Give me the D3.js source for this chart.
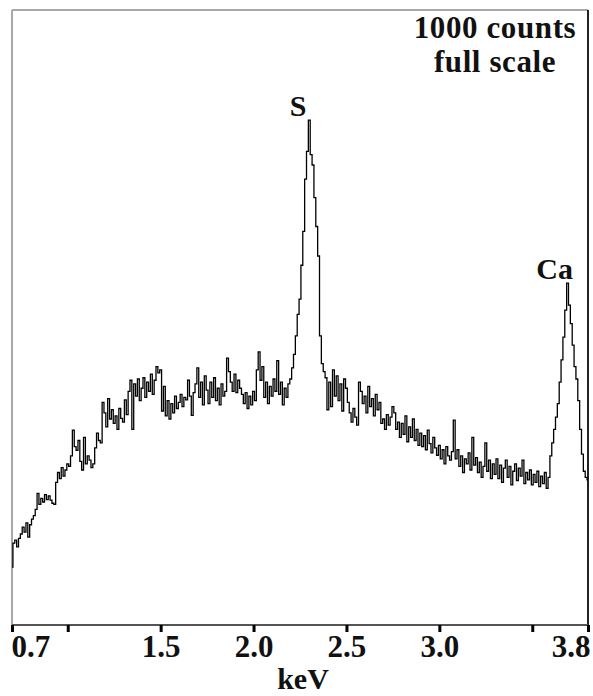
<!DOCTYPE html>
<html>
<head>
<meta charset="utf-8">
<script src="https://cdn.jsdelivr.net/npm/d3@7"></script>
<style>
  html, body { margin: 0; padding: 0; background: #fff; }
  svg text { font-family: "Liberation Serif", "Times New Roman", serif; font-weight: bold; fill: #111; }
</style>
</head>
<body>
<div id="chart"></div>
<script>
// spectrum channels: 0.70 keV start, 10 eV per channel
var startKeV = 0.70;
var channelKeV = 0.01;

// counts per channel (one row = 0.1 keV)
var counts = [
  94,133,138,127,141,148,159,151,166,143,
  163,172,178,188,214,196,206,200,212,204,
  210,203,198,196,232,248,238,256,242,252,
  262,258,275,317,290,284,300,266,252,305,
  262,275,268,256,262,288,312,300,296,362,
  345,322,368,335,350,328,340,318,352,336,
  330,366,342,380,398,318,392,372,400,365,
  385,402,370,395,380,408,375,398,420,410,
  415,348,388,340,365,335,360,345,372,352,
  362,375,355,370,366,398,372,341,378,392,
  418,370,395,358,405,382,360,395,370,402,
  365,385,358,392,372,380,434,412,395,380,
  408,378,398,385,375,360,378,352,372,358,
  380,365,415,444,398,420,370,395,360,388,
  372,400,380,430,375,395,358,385,370,392,
  400,418,440,470,505,530,585,640,725,770,
  821,765,748,695,648,600,470,425,412,402,
  350,395,355,415,372,405,365,392,348,400,
  385,362,345,330,352,338,325,395,380,360,
  372,345,388,355,368,340,375,350,362,328,
  335,318,342,325,338,355,345,318,330,305,
  328,310,340,298,322,305,335,300,318,292,
  312,290,308,285,317,295,280,305,288,276,
  292,270,285,262,290,275,268,282,333,270,
  285,258,275,248,270,262,280,252,305,260,
  272,248,265,240,258,296,250,268,238,262,
  245,270,238,260,232,255,268,240,258,228,
  250,262,235,255,242,268,230,248,236,252,
  228,245,232,250,225,242,230,248,222,240,
  275,296,318,338,360,395,431,468,512,556,
  520,490,455,420,400,365,318,278,250,240,236
];

var tickValues = [0.7, 1.0, 1.5, 2.0, 2.5, 3.0, 3.5, 3.8];
var tickLabels = ["0.7", "", "1.5", "2.0", "2.5", "3.0", "", "3.8"];
var peakNames = ["S", "Ca"];
var peakKeV = [2.24, 3.62];
var peakCounts = [821, 556];
var fullScale = 1000;

var chart = {
	w: 593,
	h: 696,
	padding: {l:12, r:5, t:10, b:71},
	svg: null
};

function drawChart() {
	chart.svg = d3.select('#chart').append('svg')
				.attr('width', chart.w)
				.attr('height', chart.h);

	var x_scale = d3.scaleLinear()
						.domain([0.7, 3.8])
						.range([chart.padding.l, chart.w - chart.padding.r]);

	var y_scale = d3.scaleLinear()
						.domain([0, fullScale])
						.range([chart.h - chart.padding.b, chart.padding.t]);

	var x0 = x_scale.range()[0], x1 = x_scale.range()[1];
	var y0 = y_scale.range()[0], y1 = y_scale.range()[1];

	var data = counts.map((c,i) => ({e: startKeV + i*channelKeV, c: c}));

	// frame
	var frame = chart.svg.append('g').attr('class', 'frame').attr('fill', 'none');
	frame.append('line').attr('x1', x0).attr('x2', x1).attr('y1', y1).attr('y2', y1)
			.attr('stroke', '#a8a8a8').attr('stroke-width', 2);
	frame.append('line').attr('x1', x0).attr('x2', x0).attr('y1', y1).attr('y2', y0)
			.attr('stroke', '#a8a8a8').attr('stroke-width', 2);
	frame.append('line').attr('x1', x1).attr('x2', x1).attr('y1', y1).attr('y2', y0)
			.attr('stroke', '#222').attr('stroke-width', 2);
	frame.append('line').attr('x1', x0).attr('x2', x1).attr('y1', y0).attr('y2', y0)
			.attr('stroke', '#555').attr('stroke-width', 2);

	// spectrum
	var line = d3.line()
				.x(d => x_scale(d.e))
				.y(d => y_scale(d.c))
				.curve(d3.curveStep);

	chart.svg.append('path')
			.datum(data)
			.attr('fill', 'none')
			.attr('stroke', '#000')
			.attr('stroke-width', 1.3)
			.attr('d', line);

	// x axis, ticks outside the frame
	var x_axis = d3.axisBottom(x_scale)
					.tickValues(tickValues)
					.tickFormat((d,i) => tickLabels[i])
					.tickSize(7)
					.tickSizeOuter(0)
					.tickPadding(3);

	var ax = chart.svg.append('g')
			.attr('class', 'axis x')
			.attr('transform', 'translate(0,' + y0 + ')')
			.call(x_axis);
	ax.select('.domain').remove();
	ax.selectAll('.tick line').attr('stroke', '#000').attr('stroke-width', 3);
	ax.selectAll('.tick text')
			.attr('font-size', 31)
			.attr('font-family', '"Liberation Serif", serif')
			.attr('font-weight', 'bold')
			.attr('fill', '#111')
			.attr('text-anchor', (d,i) => i == 0 ? 'start' : (i == tickValues.length-1 ? 'end' : 'middle'))
			.attr('dx', (d,i) => i == 0 ? -1 : (i == tickValues.length-1 ? 2 : 0));

	chart.svg.append('text')
			.attr('x', (x0 + x1)/2 + 3)
			.attr('y', 689)
			.attr('text-anchor', 'middle')
			.attr('font-size', 30)
			.text('keV');

	// peak labels
	chart.svg.selectAll('.peak')
			.data(peakNames)
			.enter()
			.append('text')
				.attr('class', 'peak')
				.attr('x', (d,i) => x_scale(peakKeV[i]))
				.attr('y', (d,i) => y_scale(peakCounts[i]) - 4)
				.attr('text-anchor', 'middle')
				.attr('font-size', 30)
				.text(d => d);

	// full scale note
	var note = chart.svg.append('text')
			.attr('text-anchor', 'middle')
			.attr('font-size', 31)
			.attr('letter-spacing', 0.6);
	note.append('tspan').attr('x', 495).attr('y', 38).text('1000 counts');
	note.append('tspan').attr('x', 495).attr('y', 72).text('full scale');
}

drawChart();
</script>
</body>
</html>
